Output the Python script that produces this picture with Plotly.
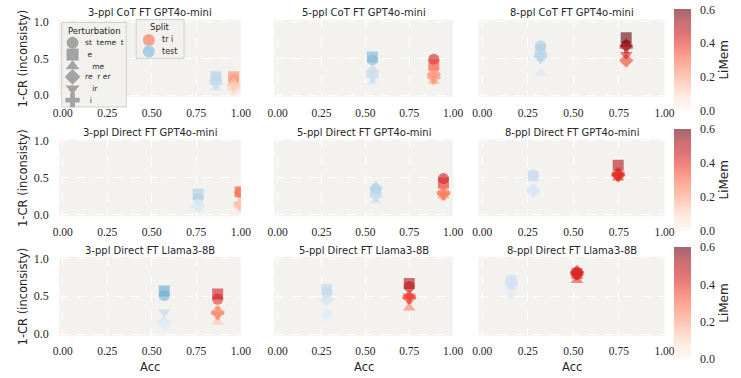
import plotly.graph_objects as go
import plotly.express as px

W, H = 741, 378

titles = [
    "3-ppl CoT FT GPT4o-mini", "5-ppl CoT FT GPT4o-mini", "8-ppl CoT FT GPT4o-mini",
    "3-ppl Direct FT GPT4o-mini", "5-ppl Direct FT GPT4o-mini", "8-ppl Direct FT GPT4o-mini",
    "3-ppl Direct FT Llama3-8B", "5-ppl Direct FT Llama3-8B", "8-ppl Direct FT Llama3-8B",
]
perturbations = ["statement", "leaf", "name", "reorder", "flip", "uncommon"]
legend_labels = ["st\u00a0\u00a0teme\u00a0\u00a0t", "\u00a0e", "\u00a0\u00a0\u00a0me", "re\u00a0\u00a0r\u00a0er", "\u00a0\u00a0\u00a0ir", "\u00a0\u00a0i"]
split_labels = ["tr\u00a0i", "test"]
symbols = ["circle", "square", "triangle-up", "diamond", "triangle-down", "cross"]

x_ticks = [0, 0.25, 0.5, 0.75, 1.0]
x_tick_text = ["0.00", "0.25", "0.50", "0.75", "1.00"]
y_ticks = [0, 0.5, 1.0]
y_tick_text = ["0.0", "0.5", "1.0"]
cb_ticks = [0, 0.2, 0.4, 0.6]
cb_tick_text = ["0.0", "0.2", "0.4", "0.6"]

# Acc per panel (train / test)
acc_train = [0.96, 0.89, 0.79, 0.995, 0.945, 0.746, 0.87, 0.75, 0.52]
acc_test = [0.86, 0.54, 0.32, 0.76, 0.56, 0.28, 0.57, 0.28, 0.16]

# 1-CR per perturbation (circle, square, tri-up, diamond, tri-down, cross)
inc_train = [
    [0.21, 0.25, 0.07, 0.15, 0.12, 0.10],
    [0.49, 0.41, 0.19, 0.29, 0.20, 0.25],
    [0.68, 0.78, 0.70, 0.47, 0.55, 0.66],
    [0.30, 0.31, 0.12, 0.13, 0.15, 0.14],
    [0.49, 0.43, 0.26, 0.30, 0.25, 0.29],
    [0.55, 0.67, 0.50, 0.53, 0.52, 0.55],
    [0.46, 0.53, 0.16, 0.29, 0.25, 0.28],
    [0.63, 0.67, 0.35, 0.48, 0.50, 0.49],
    [0.80, 0.80, 0.71, 0.82, 0.78, 0.80],
]
inc_test = [
    [0.20, 0.25, 0.10, 0.18, 0.15, 0.17],
    [0.48, 0.52, 0.18, 0.32, 0.24, 0.26],
    [0.67, 0.62, 0.30, 0.52, 0.50, 0.55],
    [0.22, 0.28, 0.08, 0.12, 0.10, 0.12],
    [0.34, 0.30, 0.19, 0.36, 0.24, 0.27],
    [0.54, 0.52, 0.30, 0.34, 0.30, 0.32],
    [0.51, 0.57, 0.10, 0.16, 0.29, 0.12],
    [0.55, 0.59, 0.24, 0.46, 0.29, 0.26],
    [0.71, 0.70, 0.62, 0.65, 0.52, 0.68],
]
# LiMem per perturbation
limem_train = [
    [0.20, 0.24, 0.07, 0.14, 0.12, 0.10],
    [0.44, 0.36, 0.17, 0.26, 0.18, 0.22],
    [0.54, 0.62, 0.55, 0.37, 0.43, 0.52],
    [0.30, 0.31, 0.12, 0.13, 0.15, 0.14],
    [0.46, 0.41, 0.25, 0.28, 0.24, 0.27],
    [0.41, 0.50, 0.37, 0.40, 0.39, 0.41],
    [0.40, 0.46, 0.14, 0.25, 0.22, 0.24],
    [0.47, 0.50, 0.26, 0.36, 0.38, 0.37],
    [0.42, 0.42, 0.37, 0.43, 0.41, 0.42],
]
limem_test = [
    [0.17, 0.21, 0.10, 0.15, 0.13, 0.15],
    [0.26, 0.28, 0.10, 0.17, 0.13, 0.14],
    [0.22, 0.20, 0.10, 0.17, 0.17, 0.18],
    [0.17, 0.21, 0.06, 0.09, 0.08, 0.09],
    [0.19, 0.17, 0.11, 0.20, 0.13, 0.15],
    [0.15, 0.15, 0.09, 0.10, 0.09, 0.09],
    [0.29, 0.32, 0.06, 0.09, 0.17, 0.07],
    [0.15, 0.17, 0.07, 0.13, 0.08, 0.07],
    [0.12, 0.12, 0.11, 0.11, 0.09, 0.12],
]


def to_rgba(c, a):
    c = c.strip()
    if c.startswith("#"):
        r, g, b = int(c[1:3], 16), int(c[3:5], 16), int(c[5:7], 16)
    else:
        r, g, b = [int(float(v)) for v in c[c.index("(") + 1:c.index(")")].split(",")[:3]]
    return f"rgba({r},{g},{b},{a})"


def scale(cols, a=0.6):
    n = len(cols)
    return [[i / (n - 1), to_rgba(cc, a)] for i, cc in enumerate(cols)]


reds = scale(px.colors.sequential.Reds)
blues = scale(px.colors.sequential.Blues)

SANS = "DejaVu Sans"
SERIF = "Liberation Serif"
TXT = "#262626"

col_px = [(54.4, 240.0), (274.0, 457.0), (483.0, 673.0)]
row_px = [(15.5, 94.5), (138.5, 217.5), (259.4, 340.6)]
title_py = [8, 131, 252.5]
cb_px = [(6, 107), (129, 231), (251, 363)]

fig = go.Figure()
layout = dict(
    width=W, height=H, margin=dict(l=0, r=0, t=0, b=0),
    paper_bgcolor="white", plot_bgcolor="rgba(0,0,0,0)",
    showlegend=False, shapes=[], annotations=[],
)

for k in range(9):
    r, c = divmod(k, 3)
    sfx = "" if k == 0 else str(k + 1)
    x0, x1 = col_px[c]
    y0, y1 = row_px[r]
    layout["xaxis" + sfx] = dict(
        domain=[x0 / W, x1 / W], range=[-0.02, 1.0], anchor="y" + sfx,
        tickvals=x_ticks, ticktext=x_tick_text, showgrid=True, gridcolor="white",
        griddash="dash", gridwidth=1, zeroline=False, showline=False,
        ticks="outside", ticklen=5, tickcolor="rgba(0,0,0,0)",
        tickfont=dict(family=SERIF, size=11.5, color=TXT), fixedrange=True,
    )
    layout["yaxis" + sfx] = dict(
        domain=[1 - y1 / H, 1 - y0 / H], range=[-0.02, 1.02], anchor="x" + sfx,
        tickvals=y_ticks, ticktext=y_tick_text, showticklabels=(c == 0),
        showgrid=True, gridcolor="white", griddash="dash", gridwidth=1,
        zeroline=False, showline=False, ticks="outside", ticklen=7,
        tickcolor="rgba(0,0,0,0)",
        tickfont=dict(family=SERIF, size=12, color=TXT), fixedrange=True,
    )
    layout["shapes"].append(dict(
        type="rect", xref="paper", yref="paper", x0=x0 / W, x1=x1 / W,
        y0=1 - y1 / H, y1=1 - y0 / H, fillcolor="#f4f2ee", line=dict(width=0),
        layer="below"))
    layout["annotations"].append(dict(
        text=titles[k], xref="paper", yref="paper", x=(x0 + x1) / 2 / W,
        y=1 - title_py[r] / H, xanchor="center", yanchor="middle", showarrow=False,
        font=dict(family=SANS, size=10, color=TXT)))

    fig.add_trace(go.Scatter(
        x=[acc_test[k]] * len(perturbations), y=inc_test[k], mode="markers",
        xaxis="x" + sfx, yaxis="y" + sfx, name="test",
        marker=dict(symbol=symbols, size=11, color=limem_test[k], colorscale=blues,
                    cmin=0, cmax=0.6, showscale=False, line=dict(width=0)),
    ))
    mk = dict(symbol=symbols, size=11, color=limem_train[k], colorscale=reds,
              cmin=0, cmax=0.6, showscale=(c == 2), line=dict(width=0))
    if c == 2:
        cy0, cy1 = cb_px[r]
        mk["colorbar"] = dict(
            x=683 / W, xanchor="left", xpad=0, ypad=0, thickness=17,
            lenmode="pixels", len=cy1 - cy0, y=1 - (cy0 + cy1) / 2 / H,
            yanchor="middle", outlinewidth=0, tickvals=cb_ticks,
            ticktext=cb_tick_text, ticks="outside", ticklen=7,
            tickcolor="rgba(0,0,0,0)",
            tickfont=dict(family=SERIF, size=12, color=TXT),
            title=dict(text="LiMem", side="right", font=dict(family=SANS, size=12, color=TXT)),
        )
    fig.add_trace(go.Scatter(
        x=[acc_train[k]] * len(perturbations), y=inc_train[k], mode="markers",
        xaxis="x" + sfx, yaxis="y" + sfx, name="train", marker=mk,
    ))

# axis titles
for r in range(3):
    y0, y1 = row_px[r]
    layout["annotations"].append(dict(
        text="1-CR (inconsisty)", xref="paper", yref="paper", x=17.5 / W,
        y=1 - (y0 + y1) / 2 / H, textangle=-90, xanchor="center", yanchor="middle",
        showarrow=False, font=dict(family=SANS, size=11.5, color=TXT)))
for c in range(3):
    x0, x1 = col_px[c]
    layout["annotations"].append(dict(
        text="Acc", xref="paper", yref="paper", x=(x0 + x1) / 2 / W, y=1 - 372.5 / H,
        xanchor="center", yanchor="middle", showarrow=False,
        font=dict(family=SANS, size=11.5, color=TXT)))

# legend overlay axis (pixel coordinates)
layout["xaxis10"] = dict(domain=[0, 1], range=[0, W], visible=False, anchor="y10", fixedrange=True)
layout["yaxis10"] = dict(domain=[0, 1], range=[H, 0], visible=False, anchor="x10", fixedrange=True)

boxes = [(57, 123, 18, 105), (133, 182, 15, 55)]
for bx0, bx1, by0, by1 in boxes:
    fig.add_trace(go.Scatter(
        x=[bx0, bx1, bx1, bx0, bx0], y=[by0, by0, by1, by1, by0], mode="lines",
        fill="toself", fillcolor="rgba(242,241,237,0.92)",
        line=dict(color="#cfcfcf", width=1), xaxis="x10", yaxis="y10",
        hoverinfo="skip", cliponaxis=False))

leg_y = [39, 51, 63, 74, 86, 98]
fig.add_trace(go.Scatter(
    x=[68] * len(symbols), y=leg_y, mode="markers", xaxis="x10", yaxis="y10",
    marker=dict(symbol=symbols, size=12, color="#a3a3a3", line=dict(width=0)),
    hoverinfo="skip", cliponaxis=False))
fig.add_trace(go.Scatter(
    x=[146, 146], y=[36, 48], mode="markers", xaxis="x10", yaxis="y10",
    marker=dict(symbol="circle", size=12, color=["#f6a38d", "#a9cfe7"], line=dict(width=0)),
    hoverinfo="skip", cliponaxis=False))

layout["annotations"].append(dict(
    text="Perturbation", xref="paper", yref="paper", x=90 / W, y=1 - 27 / H,
    xanchor="center", yanchor="middle", showarrow=False,
    font=dict(family=SANS, size=8.5, color=TXT)))
layout["annotations"].append(dict(
    text="Split", xref="paper", yref="paper", x=157 / W, y=1 - 23 / H,
    xanchor="center", yanchor="middle", showarrow=False,
    font=dict(family=SANS, size=8.5, color=TXT)))
for lab, ly in zip(legend_labels, leg_y):
    layout["annotations"].append(dict(
        text=lab, xref="paper", yref="paper", x=79 / W, y=1 - ly / H,
        xanchor="left", yanchor="middle", showarrow=False,
        font=dict(family=SANS, size=7.5, color=TXT)))
for lab, ly in zip(split_labels, [36, 48]):
    layout["annotations"].append(dict(
        text=lab, xref="paper", yref="paper", x=157 / W, y=1 - ly / H,
        xanchor="left", yanchor="middle", showarrow=False,
        font=dict(family=SANS, size=8, color=TXT)))

fig.update_layout(**layout)
fig.write_html("out.html")
